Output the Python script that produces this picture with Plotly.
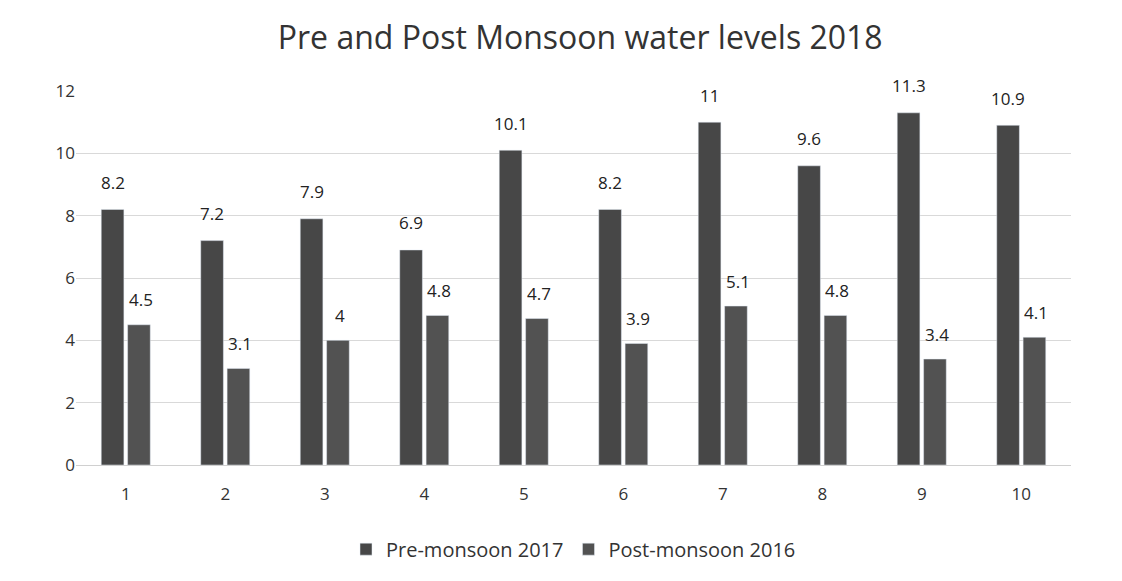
import plotly.graph_objects as go

categories = ["1", "2", "3", "4", "5", "6", "7", "8", "9", "10"]
pre_2017 = [8.2, 7.2, 7.9, 6.9, 10.1, 8.2, 11, 9.6, 11.3, 10.9]
post_2016 = [4.5, 3.1, 4, 4.8, 4.7, 3.9, 5.1, 4.8, 3.4, 4.1]

font_family = "Open Sans, Liberation Sans, sans-serif"

fig = go.Figure()
fig.add_trace(go.Bar(
    x=categories, y=pre_2017, name="Pre-monsoon 2017",
    marker=dict(color="#474747"),
))
fig.add_trace(go.Bar(
    x=categories, y=post_2016, name="Post-monsoon 2016",
    marker=dict(color="#525252"),
))

annotations = []
for i, v in enumerate(pre_2017):
    annotations.append(dict(x=i, y=v, xref="x", yref="y", text=str(v), showarrow=False,
                            xshift=-13, yshift=27, font=dict(size=17, color="#222222")))
for i, v in enumerate(post_2016):
    annotations.append(dict(x=i, y=v, xref="x", yref="y", text=str(v), showarrow=False,
                            xshift=15, yshift=25, font=dict(size=17, color="#222222")))

fig.update_layout(
    width=1122, height=581,
    paper_bgcolor="white", plot_bgcolor="white",
    font=dict(family=font_family, color="#333333"),
    title=dict(text="Pre and Post Monsoon water levels 2018", x=0.51, xanchor="center",
               y=0.948, yanchor="middle", font=dict(size=32, color="#333333")),
    barmode="group", bargap=0.47, bargroupgap=0.14,
    margin=dict(l=68, r=59, t=83, b=124),
    xaxis=dict(type="category", showgrid=False, showline=True, linecolor="#d0d0d0",
               ticks="", ticklabelstandoff=14, tickfont=dict(size=17, color="#333333")),
    yaxis=dict(range=[0, 12], dtick=2, showgrid=True, gridcolor="#d9d9d9",
               zeroline=False, ticks="",
               tickfont=dict(size=17, color="#333333")),
    legend=dict(orientation="h", x=0.5, xanchor="center", y=-0.225, yanchor="middle",
                font=dict(size=20, color="#333333")),
    annotations=annotations,
    showlegend=True,
)

fig.write_html("out.html")
